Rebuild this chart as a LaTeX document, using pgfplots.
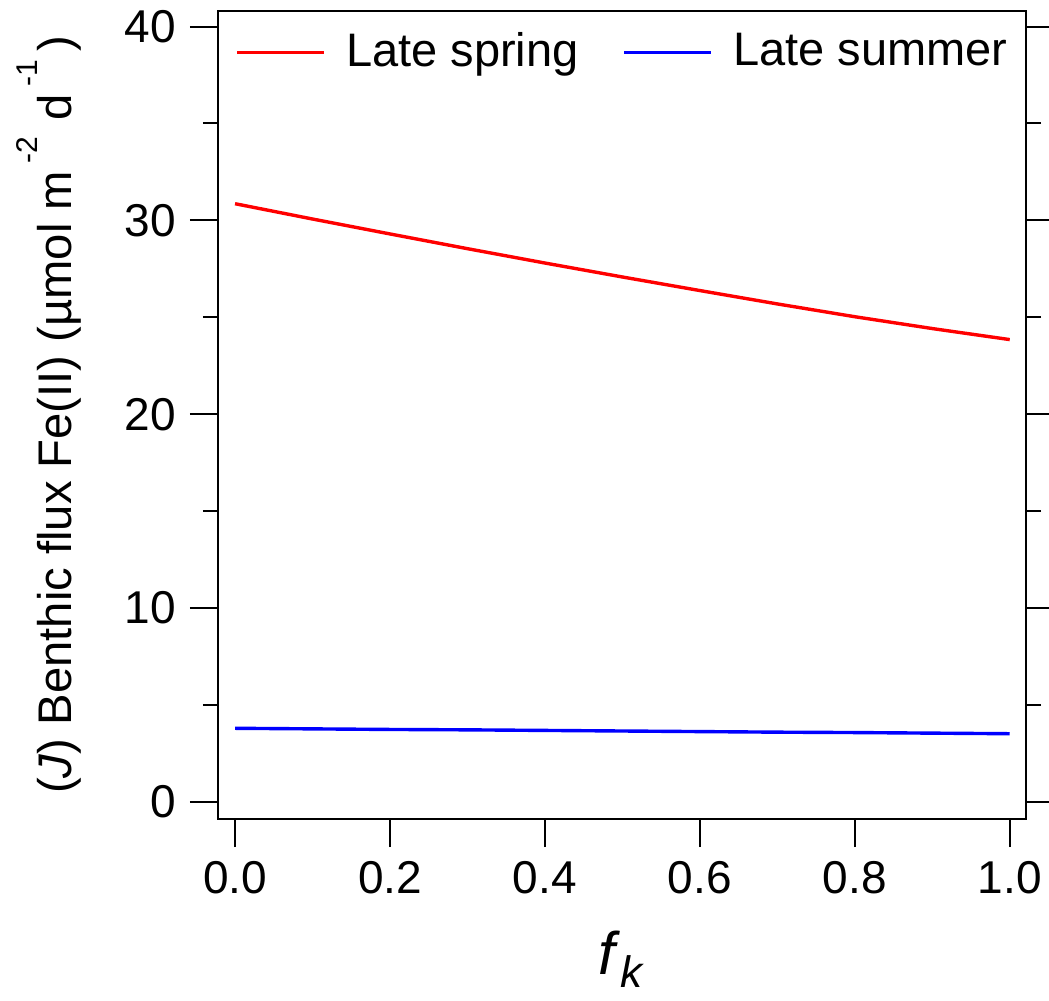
\documentclass[border=0pt]{standalone}
\usepackage{fontspec}
\setmainfont{Liberation Sans}
\usepackage{pgfplots}
\pgfplotsset{compat=1.18}
\usetikzlibrary{calc}
\definecolor{rred}{RGB}{255,0,0}
\definecolor{bblue}{RGB}{0,0,255}
\begin{document}
\begin{tikzpicture}
\begin{axis}[
  name=ax,
  scale only axis, width=202pt, height=202pt,
  xmin=-0.022, xmax=1.021, ymin=-0.88, ymax=40.8,
  axis line style={line width=0.6pt},
  tick style={line width=0.5pt, black},
  tick align=outside,
  major tick length=7pt, minor tick length=3.75pt,
  xtick={0,0.2,0.4,0.6,0.8,1.0},
  ytick={0,10,20,30,40},
  minor ytick={5,15,25,35},
  xtick pos=bottom, ytick pos=both,
  yticklabel pos=left,
  /pgf/number format/assume math mode=true,
  tick label style={font=\fontsize{11.5}{13}\selectfont},
  xticklabel style={/pgf/number format/.cd, fixed, fixed zerofill, precision=1},
  yticklabel style={/pgf/number format/.cd, fixed, precision=0},
  xlabel={\fontsize{15}{17}\selectfont\textit{f}\textsubscript{\fontsize{11}{12}\selectfont\textit{k}}},
  xlabel style={at={(axis description cs:0.5,-0.193)}, anchor=base},
  ylabel={\fontsize{11.8}{14}\selectfont (\textit{J}) Benthic flux Fe(II) (µmol m\,\raisebox{8.5pt}{\fontsize{7.5}{8}\selectfont -2}\,\,d\,\raisebox{8.5pt}{\fontsize{7.5}{8}\selectfont -1}\,)},
  ylabel style={at={(axis description cs:-0.1807,0.5)}, anchor=base, rotate=0},
  legend columns=2,
  legend style={draw=none, fill=none, at={(0.021,0.949)}, anchor=west,
    font=\fontsize{11.75}{14}\selectfont, inner sep=0pt, nodes={inner sep=0pt},
    /tikz/every odd column/.append style={column sep=5pt},
    /tikz/every even column/.append style={column sep=11pt}},
  legend image code/.code={\draw[#1] (0pt,0pt) -- (21.75pt,0pt);},
]
\addplot[rred, line width=0.85pt] coordinates {
(0,30.86) (0.1,30.07) (0.2,29.30) (0.3,28.54) (0.4,27.80) (0.5,27.08)
(0.6,26.38) (0.7,25.69) (0.8,25.03) (0.9,24.42) (1.0,23.85)};
\addlegendentry{Late spring}
\addplot[bblue, line width=0.85pt] coordinates {
(0,3.80) (0.1,3.77) (0.2,3.74) (0.3,3.72) (0.4,3.69) (0.5,3.66)
(0.6,3.63) (0.7,3.60) (0.8,3.58) (0.9,3.55) (1.0,3.52)};
\addlegendentry{Late summer}
\end{axis}
\pgfresetboundingbox
\path ($(ax.south west)+(-54.5pt,-45.25pt)$) rectangle ($(ax.north east)+(5.75pt,2.75pt)$);
\end{tikzpicture}
\end{document}
